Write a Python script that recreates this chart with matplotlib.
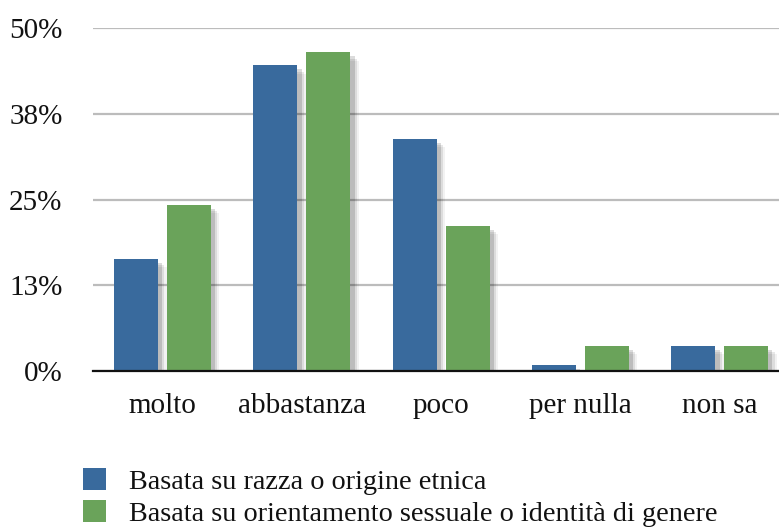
import matplotlib
matplotlib.use("Agg")
import matplotlib.pyplot as plt
import matplotlib.patheffects as pe
from matplotlib.patches import Patch
import numpy as np

categories = ["molto", "abbastanza", "poco", "per nulla", "non sa"]
series_names = ["Basata su razza o origine etnica",
                "Basata su orientamento sessuale o identità di genere"]
razza = [16.4, 44.6, 33.9, 0.9, 3.7]
orientamento = [24.2, 46.5, 21.2, 3.7, 3.7]
ytick_values = [0, 12.5, 25, 37.5, 50]
ytick_labels = ["0%", "13%", "25%", "38%", "50%"]

colors = ["#396a9d", "#6aa35a"]

plt.rcParams['font.family'] = ['Liberation Serif', 'DejaVu Serif']

W, H = 779, 532
fig = plt.figure(figsize=(W / 100, H / 100), dpi=100)
left = 93 / W
right = 789.5 / W
bottom = (H - 371) / H
top = (H - 28.3) / H
ax = fig.add_axes([left, bottom, right - left, top - bottom])

x = np.arange(len(categories))
bw = 0.316
off = 0.19

shadow = [pe.SimplePatchShadow(offset=(6, -6), shadow_rgbFace='k', alpha=0.05),
          pe.SimplePatchShadow(offset=(4.5, -4.5), shadow_rgbFace='k', alpha=0.09),
          pe.SimplePatchShadow(offset=(3, -3), shadow_rgbFace='k', alpha=0.14),
          pe.Normal()]

for vals, c, d in [(razza, colors[0], -off), (orientamento, colors[1], off)]:
    bars = ax.bar(x + d, vals, width=bw, color=c, zorder=3)
    for b in bars:
        b.set_path_effects(shadow)

ax.set_xlim(-0.5, len(categories) - 0.5)
ax.set_ylim(0, 50)
ax.set_yticks(ytick_values)
ax.set_yticklabels(ytick_labels, fontsize=21)
ax.set_xticks(x)
ax.set_xticklabels(categories, fontsize=21)
ax.tick_params(axis='y', length=0, pad=22)
ax.tick_params(axis='x', length=0, pad=16)
for lbl in ax.get_yticklabels() + ax.get_xticklabels():
    lbl.set_color('#111111')

ax.grid(axis='y', color='#bcbcbc', linewidth=1.6, zorder=0)
ax.set_axisbelow(True)
for s in ['top', 'right', 'left']:
    ax.spines[s].set_visible(False)
ax.spines['bottom'].set_color('#111111')
ax.spines['bottom'].set_linewidth(1.6)
ax.spines['bottom'].set_zorder(4)

handles = [Patch(facecolor=colors[0]), Patch(facecolor=colors[1])]
leg = fig.legend(handles, series_names, loc='upper left',
                 bbox_to_anchor=(83 / W, 1 - 468 / H), frameon=False,
                 fontsize=20.3, handlelength=0.82, handleheight=0.82,
                 handletextpad=0.82, labelspacing=0.18, borderaxespad=0,
                 borderpad=0)
for t in leg.get_texts():
    t.set_color('#111111')

fig.savefig("out.png", dpi=100)
